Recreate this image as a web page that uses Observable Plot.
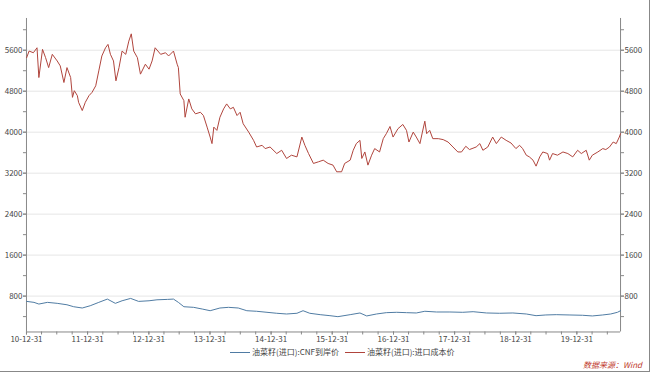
<!DOCTYPE html>
<html><head><meta charset="utf-8">
<script src="https://cdn.jsdelivr.net/npm/d3@7"></script>
<script src="https://cdn.jsdelivr.net/npm/@observablehq/plot@0.6"></script>
<style>
body{margin:0;background:#fff;}
#wrap{position:relative;width:649px;height:371px;border-right:1px solid #888;border-bottom:1px solid #888;font-family:"Noto Sans CJK SC","Noto Sans",sans-serif;overflow:hidden;background:#fff}
#legend{position:absolute;top:346px;left:230px;font-size:8px;color:#444;display:flex;align-items:center;white-space:nowrap;line-height:12px}
#legend .sw{display:inline-block;width:20px;height:1px;margin-right:2px}
#legend .item{display:flex;align-items:center;margin-right:6px}
#source{position:absolute;left:583px;top:360px;font-size:8px;color:#c0392b;font-style:italic;line-height:10px}
</style></head>
<body>
<div id="wrap">
<div id="chart"></div>
<div id="legend"></div>
<div id="source">数据来源：Wind</div>
</div>
<script>
// Series names
const seriesNames = ["油菜籽(进口):CNF到岸价", "油菜籽(进口):进口成本价"];
const seriesColors = ["#4f7ba3", "#b0443c"];

// 进口成本价 (decimal year, value)
const costT = [2011.00,2011.04,2011.11,2011.17,2011.20,2011.26,2011.31,2011.36,2011.42,2011.50,2011.55,2011.61,2011.66,2011.72,2011.75,2011.78,2011.83,2011.85,2011.91,2011.96,
2012.02,2012.07,2012.13,2012.18,2012.23,2012.29,2012.33,2012.37,2012.42,2012.46,2012.51,2012.56,2012.62,2012.67,2012.71,2012.75,2012.81,2012.86,2012.94,
2013.00,2013.05,2013.10,2013.19,2013.27,2013.32,2013.40,2013.46,2013.48,2013.51,2013.57,2013.59,2013.65,2013.70,2013.76,2013.84,2013.89,2013.95,
2014.00,2014.03,2014.06,2014.11,2014.16,2014.22,2014.27,2014.33,2014.38,2014.44,2014.49,2014.54,2014.63,2014.71,2014.76,2014.85,2014.90,2014.98,
2015.09,2015.17,2015.25,2015.33,2015.42,2015.50,2015.55,2015.61,2015.69,2015.77,2015.85,2015.93,
2016.01,2016.07,2016.15,2016.20,2016.29,2016.34,2016.39,2016.45,2016.48,2016.53,2016.58,2016.64,2016.69,2016.77,2016.83,2016.88,2016.94,2016.99,
2017.07,2017.15,2017.21,2017.25,2017.32,2017.37,2017.43,2017.47,2017.51,2017.54,2017.59,2017.64,2017.73,2017.81,2017.89,2017.97,
2018.05,2018.11,2018.18,2018.24,2018.35,2018.41,2018.46,2018.54,2018.62,2018.68,2018.76,2018.84,2018.92,
2019.00,2019.06,2019.11,2019.17,2019.22,2019.28,2019.33,2019.39,2019.44,2019.52,2019.55,2019.60,2019.68,2019.77,2019.85,2019.93,
2020.01,2020.07,2020.15,2020.20,2020.25,2020.34,2020.42,2020.47,2020.53,2020.59,2020.64,2020.69,2020.71];
const costV = [5455,5584,5551,5648,5067,5617,5455,5261,5520,5391,5294,4970,5261,5067,4680,4810,4713,4583,4422,4583,
4713,4777,4906,5197,5488,5648,5714,5520,5391,5003,5261,5584,5520,5778,5920,5584,5455,5133,5327,
5230,5391,5648,5520,5551,5488,5584,5327,5261,4746,4616,4292,4649,4455,4358,4389,4325,4099,
3905,3777,4099,4035,4292,4455,4552,4455,4486,4325,4389,4165,4002,3841,3711,3744,3680,3711,
3583,3647,3487,3551,3518,3905,3744,3583,3390,3421,3454,3390,
3357,3227,3227,3390,3454,3647,3777,3841,3487,3614,3357,3551,3680,3614,3874,3971,4112,3905,
4068,4151,4035,3808,4002,3905,3777,4002,4215,3971,4035,3874,3874,3855,3808,3711,
3614,3614,3725,3661,3711,3777,3647,3711,3905,3777,3905,3841,3789,
3680,3744,3680,3551,3518,3454,3337,3518,3614,3583,3454,3583,3551,3614,3583,3518,
3647,3583,3647,3454,3551,3614,3680,3661,3711,3808,3777,3905,3971];

// CNF到岸价 (decimal year, value)
const cnfT = [2011.00,2011.12,2011.20,2011.34,2011.50,2011.66,2011.77,2011.91,2012.04,2012.18,2012.32,2012.45,2012.56,2012.70,2012.83,
2013.00,2013.13,2013.30,2013.40,2013.48,2013.57,2013.73,2013.87,2014.00,2014.16,2014.30,2014.46,2014.60,2014.76,2014.93,
2015.09,2015.25,2015.42,2015.52,2015.63,2015.80,2015.96,2016.09,2016.29,2016.45,2016.56,2016.72,2016.88,
2017.05,2017.21,2017.37,2017.51,2017.70,2017.92,2018.13,2018.30,2018.52,2018.73,2018.95,
2019.17,2019.33,2019.49,2019.66,2019.87,2020.09,2020.25,2020.42,2020.55,2020.66,2020.71];
const cnfV = [697,678,645,678,659,631,593,568,612,678,742,659,709,755,697,
709,728,736,742,678,593,581,548,515,568,581,568,515,504,484,
465,451,465,515,465,438,418,399,438,471,413,451,477,
484,477,471,504,490,490,484,496,471,465,471,
451,418,432,438,432,426,413,432,451,484,515];

// Axis ticks
const yMajor = [800,1600,2400,3200,4000,4800,5600];
const yMinor = [400,800,1200,1600,2000,2400,2800,3200,3600,4000,4400,4800,5200,5600,6000];
const xYears = [2010,2011,2012,2013,2014,2015,2016,2017,2018,2019];

const toDate = t => {
  const y = Math.floor(t);
  const start = Date.UTC(y,0,1), end = Date.UTC(y+1,0,1);
  return new Date(start + (t - y) * (end - start));
};
const cost = costT.map((t,i)=>({date:toDate(t), value:costV[i], s:seriesNames[1]}));
const cnf = cnfT.map((t,i)=>({date:toDate(t), value:cnfV[i], s:seriesNames[0]}));

const xMajor = xYears.map(y=>new Date(Date.UTC(y,11,31)));
const xMinor = [];
for (const y of xYears.concat([2020])) for (const m of [2,5,8,11]) {
  const d = new Date(Date.UTC(y, m+1, 0));
  if (d >= xMajor[0] && d <= toDate(2020.71)) xMinor.push(d);
}
const xDomain = [xMajor[0], toDate(2020.71)];
const yDomain = [100, 6220];
const fmtX = d3.utcFormat("%y-%m-%d");

const chart = Plot.plot({
  width: 650, height: 346,
  marginLeft: 26, marginRight: 29, marginTop: 18, marginBottom: 14,
  style: {fontFamily: '"Noto Sans CJK SC","Noto Sans",sans-serif', fontSize: "8px", color: "#444", background: "#fff"},
  x: {type: "utc", domain: xDomain},
  y: {domain: yDomain},
  marks: [
    Plot.gridY(yMajor, {stroke: "#e6e6e6", strokeOpacity: 1}),
    Plot.axisY(yMinor, {anchor: "left", tickSize: 3, text: null, label: null, stroke: "#888"}),
    Plot.axisY(yMinor, {anchor: "right", tickSize: 3, text: null, label: null, stroke: "#888"}),
    Plot.axisY(yMajor, {anchor: "left", tickSize: 3, tickPadding: 1, tickFormat: d=>String(d), label: null, stroke: "#888", fill: "#444"}),
    Plot.axisY(yMajor, {anchor: "right", tickSize: 3, tickPadding: 1, tickFormat: d=>String(d), label: null, stroke: "#888", fill: "#444"}),
    Plot.axisX(xMinor, {tickSize: 3, text: null, label: null, stroke: "#888"}),
    Plot.axisX(xMajor, {tickSize: 3, tickPadding: 1, tickFormat: fmtX, label: null, stroke: "#888", fill: "#444"}),
    Plot.ruleX([xDomain[0], xDomain[1]], {stroke: "#888"}),
    Plot.ruleY([yDomain[0]], {stroke: "#888"}),
    Plot.line(cnf, {x: "date", y: "value", stroke: seriesColors[0], strokeWidth: 1}),
    Plot.line(cost, {x: "date", y: "value", stroke: seriesColors[1], strokeWidth: 1})
  ]
});
document.getElementById("chart").appendChild(chart);

const legend = document.getElementById("legend");
seriesNames.forEach((n,i)=>{
  const it = document.createElement("span"); it.className = "item";
  const sw = document.createElement("span"); sw.className = "sw"; sw.style.background = seriesColors[i];
  const tx = document.createElement("span"); tx.textContent = n;
  it.appendChild(sw); it.appendChild(tx); legend.appendChild(it);
});
</script>
</body></html>
